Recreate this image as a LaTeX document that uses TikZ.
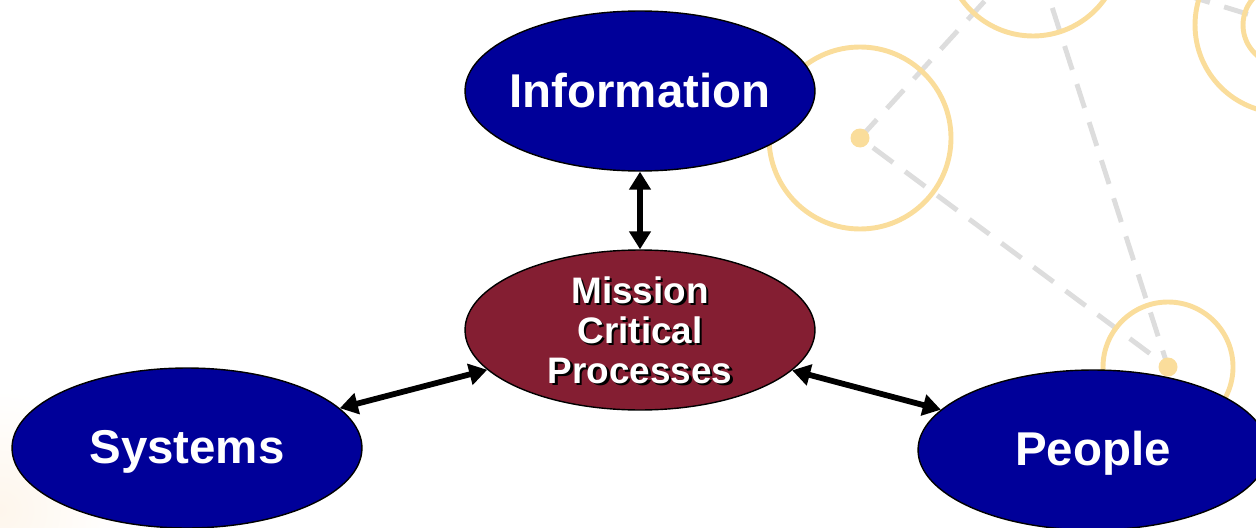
\documentclass[tikz,border=0pt]{standalone}
\usepackage{fontspec}
\setmainfont{Liberation Sans}
\usetikzlibrary{shapes.geometric,arrows.meta}

\definecolor{navyfill}{RGB}{0,0,153}
\definecolor{wine}{RGB}{132,30,50}
\definecolor{sand}{RGB}{250,221,155}
\definecolor{dashgray}{RGB}{221,221,221}
\definecolor{cream}{RGB}{254,246,236}

\begin{document}
\begin{tikzpicture}[x=0.02cm, y=-0.02cm,
    bubble/.style={ellipse, draw=black, line width=0.8pt, inner sep=0pt,
        minimum width=7cm, minimum height=3.2cm},
    bigtext/.style={text=white, font=\fontsize{27}{30}\selectfont\bfseries},
    smalltext/.style={align=center, font=\fontsize{21}{22.8}\selectfont\bfseries},
    link/.style={{Triangle[length=0.36cm,width=0.42cm]}-{Triangle[length=0.36cm,width=0.42cm]}, line width=3.3pt}]
    \useasboundingbox (0,0) rectangle (1256,527);
    \clip (0,0) rectangle (1256,527);
    % Background tint
    \shade[inner color=cream, outer color=white] (0,510) circle (120);
    % Network lines
    \coordinate (c1) at (860,138);
    \coordinate (c2) at (1033,-52);
    \coordinate (c3) at (1283,25);
    \coordinate (c4) at (1168,367);
    \draw[dashgray, line width=2.8pt, dash pattern=on 0.5cm off 0.3cm]
        (c1) -- (c2) -- (c4) -- (c1) (c2) -- (c3);
    % Rings
    \draw[sand, line width=2.8pt] (c1) circle (91) (c2) circle (88)
        (c3) circle (88) (c3) circle (40) (c4) circle (65);
    \fill[sand] (c1) circle (9.5) (c4) circle (9.5);
    % Bubbles
    \node[bubble, fill=navyfill, label={[bigtext]center:Information}] (info) at (640,91) {};
    \node[bubble, fill=wine,
        label={[smalltext, text=black, xshift=0.05cm, yshift=-0.05cm]center:{Mission\\Critical\\Processes}},
        label={[smalltext, text=white]center:{Mission\\Critical\\Processes}}] (mission) at (640,330) {};
    \node[bubble, fill=navyfill, label={[bigtext, yshift=-0.08cm]center:Systems}] (systems) at (187,448) {};
    \node[bubble, fill=navyfill, label={[bigtext, yshift=-0.06cm]center:People}] (people) at (1093,450) {};
    % Arrows
    \draw[link] (info) -- (mission);
    \draw[link] (systems) -- (mission);
    \draw[link] (mission) -- (people);
\end{tikzpicture}
\end{document}
